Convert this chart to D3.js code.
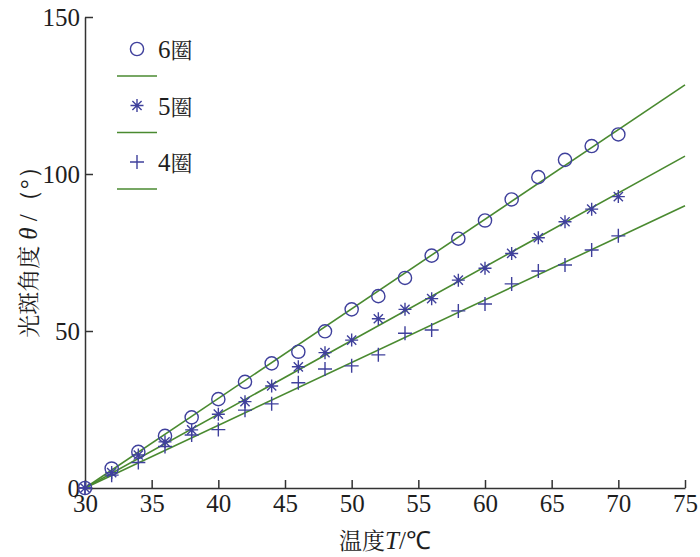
<!DOCTYPE html>
<html>
<head>
<meta charset="utf-8">
<script src="https://cdn.jsdelivr.net/npm/d3@7"></script>
<style>
  body { margin: 0; background: #fff; }
</style>
</head>
<body>
<div id="chart"></div>
<script>
// temperature (°C)
var temps = [30, 32, 34, 36, 38, 40, 42, 44, 46, 48, 50, 52, 54, 56, 58, 60, 62, 64, 66, 68, 70];
// measured spot angle (°)
var coil6 = [0, 6.2, 11.5, 16.6, 22.5, 28.3, 33.8, 39.7, 43.4, 49.9, 56.9, 61.1, 66.9, 74.0, 79.4, 85.2, 91.9, 99.0, 104.5, 108.9, 112.6];
var coil5 = [0, 4.9, 10.5, 14.7, 18.5, 23.5, 27.5, 32.5, 38.6, 43.1, 47.1, 53.9, 56.9, 60.3, 66.2, 70.0, 74.7, 79.7, 84.8, 88.8, 92.8];
var coil4 = [0, 4.1, 8.1, 13.2, 16.9, 18.6, 24.8, 26.8, 33.5, 37.9, 38.9, 42.4, 49.3, 50.3, 56.4, 58.6, 65.0, 69.1, 71.0, 75.8, 80.3];
// fitted lines, end points
var fitT = [30, 75];
var fit6 = [0, 128.4];
var fit5 = [0, 105.7];
var fit4 = [0, 89.9];
var xTicks = [30, 35, 40, 45, 50, 55, 60, 65, 70, 75];
var yTicks = [0, 50, 100, 150];
var legendNames = ["6", "5", "4"];

var W = 700, H = 557;
var margin = {top: 17, right: 15, bottom: 69, left: 85};
var width = W - margin.left - margin.right,
    height = H - margin.top - margin.bottom;

var markColor = "#3f409c", lineColor = "#4a8a30", axisColor = "#333", textColor = "#1e1e1e";
var cjk = "Noto Serif CJK SC";

var root = d3.select("#chart").append("svg")
    .attr("width", W)
    .attr("height", H)
    .attr("font-family", "Liberation Serif");
var svg = root.append("g")
    .attr("transform", "translate(" + margin.left + "," + margin.top + ")");

var x = d3.scaleLinear().domain([30, 75]).range([0, width]);
var y = d3.scaleLinear().domain([0, 150]).range([height, 0]);

// axes, ticks inward
var xAxis = svg.append("g")
    .attr("transform", "translate(0," + height + ")")
    .call(d3.axisBottom(x).tickValues(xTicks).tickSizeInner(-8).tickSizeOuter(0).tickPadding(7));
var yAxis = svg.append("g")
    .call(d3.axisLeft(y).tickValues(yTicks).tickSizeInner(-8).tickSizeOuter(0).tickPadding(5));

[xAxis, yAxis].forEach(function (a) {
    a.attr("font-family", "Liberation Serif").attr("font-size", 25);
    a.select(".domain").attr("stroke", axisColor).attr("stroke-width", 1.5);
    a.selectAll(".tick line").attr("stroke", axisColor).attr("stroke-width", 1.5);
    a.selectAll(".tick text").attr("fill", textColor);
});
yAxis.selectAll(".tick text").attr("dy", "0.33em");
xAxis.selectAll(".tick text").attr("dy", "0.68em");

// fitted lines
var line = d3.line()
    .x(function (d) { return x(d[0]); })
    .y(function (d) { return y(d[1]); });

[fit6, fit5, fit4].forEach(function (f) {
    svg.append("path")
        .attr("d", line(fitT.map(function (t, i) { return [t, f[i]]; })))
        .attr("fill", "none")
        .attr("stroke", lineColor)
        .attr("stroke-width", 1.6);
});

// marker shapes
function drawMarker(g, kind) {
    if (kind === "circle") {
        g.append("circle").attr("r", 6.6)
            .attr("fill", "none").attr("stroke", markColor).attr("stroke-width", 1.4);
    } else if (kind === "star") {
        var s = 6.5, d = 4.6;
        g.append("path")
            .attr("d", "M" + (-s) + ",0H" + s + "M0," + (-s) + "V" + s +
                "M" + (-d) + "," + (-d) + "L" + d + "," + d +
                "M" + (-d) + "," + d + "L" + d + "," + (-d))
            .attr("stroke", markColor).attr("stroke-width", 1.4).attr("fill", "none");
    } else {
        var p = 7;
        g.append("path")
            .attr("d", "M" + (-p) + ",0H" + p + "M0," + (-p) + "V" + p)
            .attr("stroke", markColor).attr("stroke-width", 1.4).attr("fill", "none");
    }
}

var series = [
    {kind: "circle", values: coil6},
    {kind: "star", values: coil5},
    {kind: "plus", values: coil4}
];

series.forEach(function (s) {
    svg.append("g").selectAll("g")
        .data(temps)
        .enter().append("g")
        .attr("transform", function (t, i) { return "translate(" + x(t) + "," + y(s.values[i]) + ")"; })
        .each(function () { drawMarker(d3.select(this), s.kind); });
});

// legend
var legend = svg.append("g").attr("transform", "translate(" + (137 - margin.left) + "," + (49 - margin.top) + ")");
series.forEach(function (s, i) {
    var gy = i * 56.5;
    var m = legend.append("g").attr("transform", "translate(0," + gy + ")");
    drawMarker(m, s.kind);
    var t = legend.append("text")
        .attr("x", 21)
        .attr("y", gy + 9)
        .attr("fill", textColor)
        .attr("font-size", 25);
    t.append("tspan").text(legendNames[i]);
    t.append("tspan").attr("font-family", cjk).attr("font-size", 22).text("圈");
    legend.append("line")
        .attr("x1", -20).attr("x2", 20)
        .attr("y1", gy + 27).attr("y2", gy + 27)
        .attr("stroke", lineColor).attr("stroke-width", 1.6);
});

// axis titles
var xt = svg.append("text")
    .attr("x", 339 - margin.left)
    .attr("y", 549 - margin.top)
    .attr("fill", textColor)
    .attr("font-size", 25);
xt.append("tspan").attr("font-family", cjk).attr("font-size", 23).text("温度");
xt.append("tspan").attr("font-style", "italic").text("T");
xt.append("tspan").text("/℃");

var yt = svg.append("text")
    .attr("transform", "translate(" + (37 - margin.left) + "," + (246 - margin.top) + ") rotate(-90)")
    .attr("text-anchor", "middle")
    .attr("fill", textColor)
    .attr("font-size", 25);
yt.append("tspan").attr("font-family", cjk).attr("font-size", 23).text("光斑角度 ");
yt.append("tspan").attr("font-style", "italic").text("θ");
yt.append("tspan").text(" /（°）");
</script>
</body>
</html>
